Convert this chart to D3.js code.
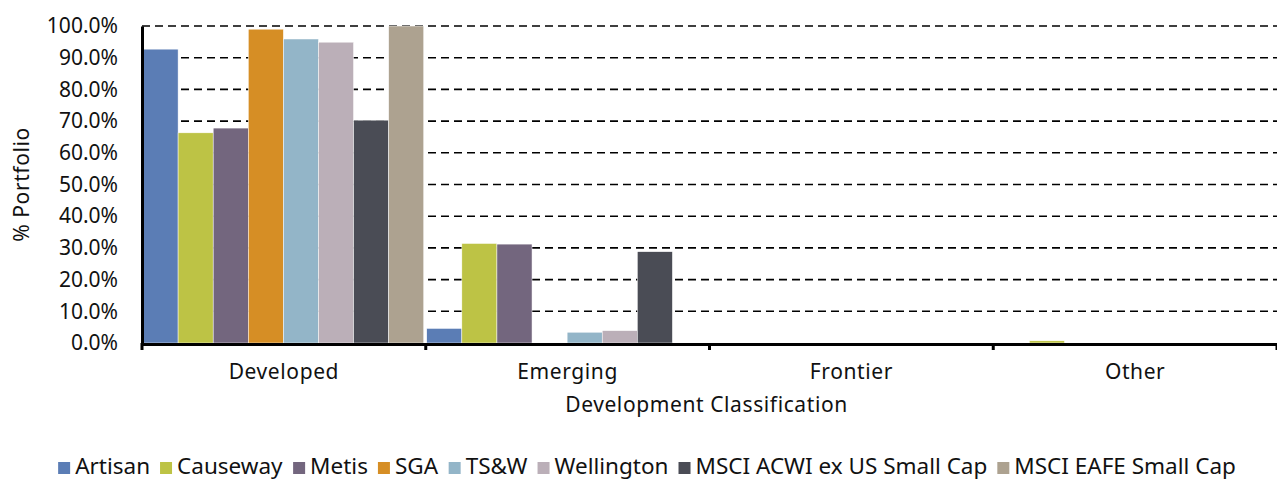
<!DOCTYPE html>
<html>
<head>
<meta charset="utf-8">
<script src="https://cdn.jsdelivr.net/npm/d3@7"></script>
<style>
  body { margin: 0; background: #fff; }
  svg { display: block; }
</style>
</head>
<body>
<svg id="chart" width="1277" height="481"></svg>
<script>
const categories = ['Developed', 'Emerging', 'Frontier', 'Other']
const seriesNames = ['Artisan', 'Causeway', 'Metis', 'SGA', 'TS&W', 'Wellington', 'MSCI ACWI ex US Small Cap', 'MSCI EAFE Small Cap']
const colors = ['#5b7db5', '#bdc345', '#73667e', '#d68e25', '#93b5c8', '#bbafb8', '#4a4c55', '#ada290']

// values in %, one array per series: Developed, Emerging, Frontier, Other
const artisan    = [92.7, 4.6, 0, 0]
const causeway   = [66.3, 31.4, 0, 0.7]
const metis      = [67.8, 31.2, 0, 0]
const sga        = [99.0, 0, 0, 0]
const tsw        = [95.9, 3.4, 0, 0]
const wellington = [94.9, 3.9, 0, 0]
const acwi       = [70.3, 28.8, 0, 0]
const eafe       = [100.0, 0, 0, 0]
const seriesValues = [artisan, causeway, metis, sga, tsw, wellington, acwi, eafe]

const yTicks = [0, 10, 20, 30, 40, 50, 60, 70, 80, 90, 100]

const svg = d3.select('#chart')
const margin = { top: 26, right: 0, bottom: 138, left: 142 }
const width = 1277, height = 481
const plotW = width - margin.left - margin.right
const plotH = height - margin.top - margin.bottom

const g = svg.append('g').attr('transform', `translate(${margin.left},${margin.top})`)

const x = d3.scaleBand().domain(categories).range([0, plotW]).paddingInner(0).paddingOuter(0)
const xs = d3.scaleBand().domain(seriesNames).range([1, x.bandwidth() - 2]).padding(0)
const y = d3.scaleLinear().domain([0, 100]).range([plotH, 0])

const axisFont = '"Noto Sans", "Lato", sans-serif'

// dashed gridlines
g.append('g')
    .selectAll('line')
    .data(yTicks.slice(1))
    .join('line')
    .attr('x1', 0).attr('x2', plotW)
    .attr('y1', d => y(d)).attr('y2', d => y(d))
    .attr('stroke', '#000')
    .attr('stroke-width', 1.6)
    .attr('stroke-dasharray', '8,5')

// bars
const groups = g.append('g')
    .selectAll('g')
    .data(categories)
    .join('g')
    .attr('transform', c => `translate(${x(c)},0)`)

groups.selectAll('rect')
    .data((c, ci) => seriesNames.map((s, si) => ({ s, si, v: seriesValues[si][ci] })))
    .join('rect')
    .attr('x', d => xs(d.s))
    .attr('width', xs.bandwidth())
    .attr('y', d => y(d.v))
    .attr('height', d => y(0) - y(d.v))
    .attr('fill', d => colors[d.si])
    .attr('stroke', '#fff')
    .attr('stroke-width', 0.5)

// y axis
const yAxis = g.append('g')
    .call(d3.axisLeft(y).tickValues(yTicks).tickFormat(d => d.toFixed(1) + '%').tickSize(0).tickPadding(24))
yAxis.select('.domain').attr('stroke', '#000').attr('stroke-width', 3)
yAxis.selectAll('text').attr('font-family', axisFont).attr('font-size', 21).attr('fill', '#111')

// x axis
const xAxis = g.append('g')
    .attr('transform', `translate(0,${plotH + 1})`)
    .call(d3.axisBottom(x).tickSize(0).tickPadding(20))
xAxis.select('.domain').attr('stroke', '#000').attr('stroke-width', 3)
xAxis.selectAll('text').attr('font-family', axisFont).attr('font-size', 21).attr('fill', '#111')
    .attr('letter-spacing', 0.6)

// category boundary ticks
g.append('g')
    .selectAll('line')
    .data(categories.map(c => x(c)).concat([plotW]))
    .join('line')
    .attr('x1', d => d).attr('x2', d => d)
    .attr('y1', plotH).attr('y2', plotH + 7)
    .attr('stroke', '#000')
    .attr('stroke-width', 3)

// axis titles
svg.append('text')
    .attr('transform', `translate(29,${margin.top + plotH / 2}) rotate(-90)`)
    .attr('text-anchor', 'middle')
    .attr('font-family', axisFont)
    .attr('font-size', 21)
    .attr('letter-spacing', 0.6)
    .attr('fill', '#111')
    .text('% Portfolio')

svg.append('text')
    .attr('x', margin.left + plotW / 2 - 3)
    .attr('y', 412)
    .attr('text-anchor', 'middle')
    .attr('font-family', axisFont)
    .attr('font-size', 21)
    .attr('letter-spacing', 0.6)
    .attr('fill', '#111')
    .text('Development Classification')

// legend
const legend = svg.append('g')
const legFont = '"Noto Sans", "Open Sans", sans-serif'
let cx = 0
const items = legend.selectAll('g')
    .data(seriesNames)
    .join('g')
items.append('rect')
    .attr('y', -12)
    .attr('width', 12).attr('height', 12)
    .attr('fill', (d, i) => colors[i])
items.append('text')
    .attr('x', 17)
    .attr('y', 0)
    .attr('font-family', legFont)
    .attr('font-size', 22.5)
    .attr('fill', '#111')
    .text(d => d)
items.each(function () {
    const w = this.getBBox().width
    d3.select(this).attr('transform', `translate(${cx},0)`)
    cx += w + 10
})
legend.attr('transform', `translate(${647 - (cx - 10) / 2},474)`)
</script>
</body>
</html>
